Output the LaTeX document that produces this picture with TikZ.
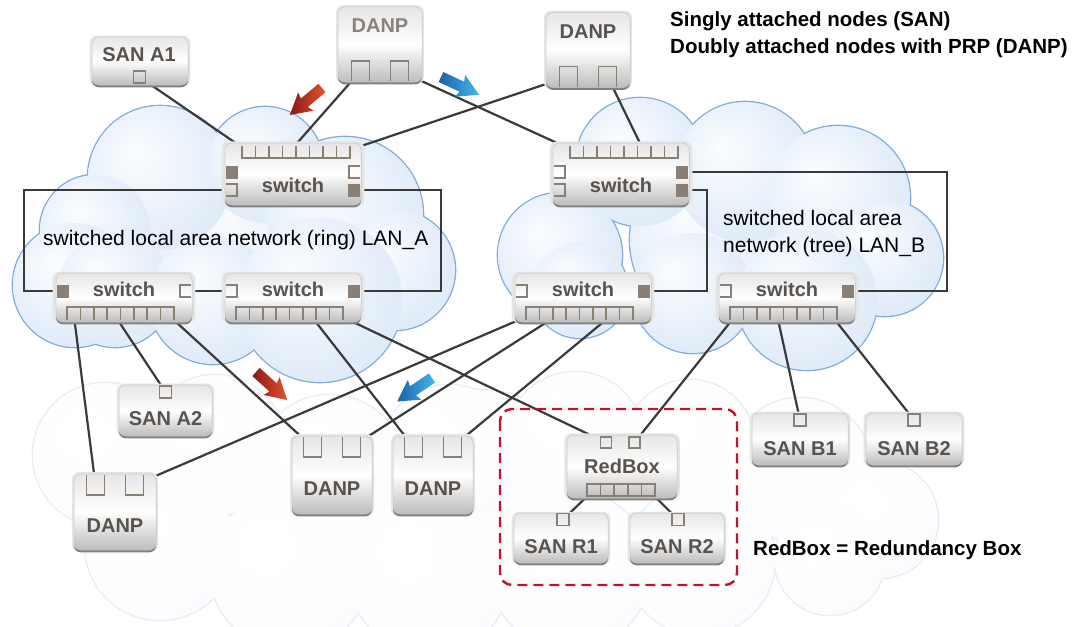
\documentclass[tikz,border=0pt]{standalone}
\usepackage{fontspec}
\setmainfont{Liberation Sans}
\usetikzlibrary{shadows}

\definecolor{portc}{HTML}{8A7F74}
\definecolor{labelc}{HTML}{5A524C}
\definecolor{labelsoft}{HTML}{8A827B}
\definecolor{wirec}{HTML}{3A3A3A}
\definecolor{redc}{HTML}{C8102E}
\definecolor{lanline}{HTML}{82AADD}
\definecolor{lanA}{HTML}{FBFDFF}
\definecolor{lanB}{HTML}{EAF2FB}
\definecolor{lanC}{HTML}{D9E7F6}
\definecolor{lanD}{HTML}{C2D8EF}
\definecolor{fogline}{HTML}{E6EDF6}
\definecolor{fogA}{HTML}{FFFFFF}
\definecolor{fogB}{HTML}{FEFEFF}
\definecolor{fogC}{HTML}{FAFBFD}
\definecolor{fogD}{HTML}{F3F6FA}
\definecolor{arrRedA}{HTML}{8C1818}
\definecolor{arrRedB}{HTML}{E2542C}
\definecolor{arrBluA}{HTML}{1B62A8}
\definecolor{arrBluB}{HTML}{45B6EC}

\pgfdeclareradialshading{lanbubble}{\pgfpoint{-9bp}{9bp}}{color(0bp)=(lanA); color(18bp)=(lanB); color(36bp)=(lanC); color(50bp)=(lanD)}
\pgfdeclareradialshading{fogbubble}{\pgfpoint{-9bp}{9bp}}{color(0bp)=(fogA); color(18bp)=(fogB); color(36bp)=(fogC); color(50bp)=(fogD)}

\pgfdeclarelayer{clouds}
\pgfdeclarelayer{wires}
\pgfsetlayers{clouds,wires,main}

\tikzset{
  wire/.style={draw=wirec, line width=2.2pt},
  portline/.style={draw=portc, line width=1.6pt},
  dev/.style={rectangle, rounded corners=7pt, draw=black!22, line width=0.5pt,
    top color=black!10, bottom color=black!26, middle color=white,
    general shadow={fill=black!10, shadow scale=1.05},
    general shadow={fill=black!50, shadow yshift=-2.4pt},
    inner sep=0pt},
  lab/.style={font=\fontsize{20}{20}\selectfont\bfseries, text=labelc, inner sep=0pt, anchor=base},
  note/.style={font=\fontsize{20.5}{24}\selectfont\bfseries, text=black, inner sep=0pt, anchor=base west},
  lantext/.style={font=\fontsize{21}{25}\selectfont, text=black, inner sep=0pt, anchor=base west},
  redbox/.style={draw=redc, line width=2.4pt, dash pattern=on 10pt off 6pt, rounded corners=12pt},
}

% cloud built from overlapping circles: outer rim first, then shaded bubbles
\newcommand\cloudshape[3]{%
  \foreach \cx/\cy/\cr in {#1} \fill[#2] (\cx,\cy) circle [radius=\cr pt+1.3pt];
  \foreach \cx/\cy/\cr in {#1} \shade[shading=#3] (\cx,\cy) circle [radius=\cr pt];
}

% row of 8 ports hanging from the top edge of a switch
\newcommand\topcomb[4]{%
  \pgfmathsetmacro\cstep{(#3-#2)/8}
  \draw[portline] (#2,#4+3) -- (#2,#4+15) -- (#3,#4+15) -- (#3,#4+3);
  \foreach \k in {1,...,7} \draw[portline] ({#2+\k*\cstep},#4+3) -- ({#2+\k*\cstep},#4+15);
  \foreach \k in {1,...,8} \coordinate (#1-t\k) at ({#2+(\k-0.5)*\cstep},#4+9);
}
% row of 8 ports standing on the bottom edge of a switch
\newcommand\botcomb[4]{%
  \pgfmathsetmacro\cstep{(#3-#2)/8}
  \draw[portline] (#2,#4-2) -- (#2,#4-15) -- (#3,#4-15) -- (#3,#4-2);
  \foreach \k in {1,...,7} \draw[portline] ({#2+\k*\cstep},#4-2) -- ({#2+\k*\cstep},#4-15);
  \foreach \k in {1,...,8} \coordinate (#1-b\k) at ({#2+(\k-0.5)*\cstep},#4-8);
}
% side ports of a switch (x = face edge, y = port centre)
\newcommand\portLfill[3]{\fill[portc] (#2+1,#3-6.5) rectangle (#2+13,#3+6.5); \coordinate (#1) at (#2+7,#3);}
\newcommand\portLopen[3]{\draw[portline] (#2+1,#3-6) -- (#2+12,#3-6) -- (#2+12,#3+6) -- (#2+1,#3+6); \coordinate (#1) at (#2+7,#3);}
\newcommand\portRfill[3]{\fill[portc] (#2-13,#3-6.5) rectangle (#2-1,#3+6.5); \coordinate (#1) at (#2-7,#3);}
\newcommand\portRopen[3]{\draw[portline] (#2-1,#3-6) -- (#2-12,#3-6) -- (#2-12,#3+6) -- (#2-1,#3+6); \coordinate (#1) at (#2-7,#3);}
% the two ports of a doubly attached node; #4 = +1 opens at the top, -1 at the bottom
\newcommand\danpports[4]{%
  \foreach \s/\n in {-1/l,1/r}{%
    \draw[portline] ({#2+\s*19.5-9},#3) -- ({#2+\s*19.5-9},{#3+#4*20}) -- ({#2+\s*19.5+9},{#3+#4*20}) -- ({#2+\s*19.5+9},#3);
    \coordinate (#1-\n) at ({#2+\s*19.5},{#3+#4*10});
  }%
}
% single closed port
\newcommand\sqport[4]{\draw[portline] (#2-#4/2,#3-#4/2) rectangle (#2+#4/2,#3+#4/2); \coordinate (#1) at (#2,#3);}
% block arrow showing the direction of the duplicated frames
\newcommand\flowarrow[5]{%
  \begin{scope}[shift={(#1,#2)}, rotate=#3]
    \shade[left color=#4, right color=#5] (0,-5.5) -- (23,-5.5) -- (21,-12) -- (42,0) -- (21,12) -- (23,5.5) -- (0,5.5) -- cycle;
  \end{scope}}

\begin{document}
\begin{tikzpicture}[x=1pt,y=-1pt]
\path[use as bounding box] (0,0) rectangle (1086,626);

% ---------------- clouds ----------------
\begin{pgfonlayer}{clouds}
\begin{scope}
  \clip (0,0) rectangle (1086,626);
  \fill[white] (0,0) rectangle (1086,626);
  \cloudshape{480/500/110, 105/455/72, 215/445/70, 330/470/75, 450/455/70, 575/440/68, 690/445/65, 800/470/72, 880/520/58, 160/545/75, 290/570/80, 430/575/80, 570/570/80, 700/560/75, 830/560/55}{fogline}{fogbubble}
  \cloudshape{250/240/100, 160/178/72, 265/165/58, 345/215/78, 95/230/55, 75/285/62, 395/270/60, 115/290/57, 213/300/64, 320/300/82}{lanline}{lanbubble}
  \cloudshape{720/240/90, 640/162/64, 745/172/70, 838/198/72, 885/258/58, 560/255/62, 580/290/48, 693/293/60, 807/300/70}{lanline}{lanbubble}
\end{scope}
\end{pgfonlayer}

\node[lantext] (lanA-txt) at (43,245) {switched local area network (ring) LAN\_A};
\node[lantext] (lanB-txt1) at (723,225) {switched local area};
\node[lantext] (lanB-txt2) at (723,252) {network (tree) LAN\_B};

% ---------------- legend ----------------
\node[note] (legend1) at (670,27) {Singly attached nodes (SAN)};
\node[note] (legend2) at (670,53) {Doubly attached nodes with PRP (DANP)};
\node[note] (rb-legend) at (753,555) {RedBox = Redundancy Box};

% ---------------- redundancy box frame ----------------
\draw[redbox] (500,409) rectangle (737,585);

% ---------------- LAN_A switches ----------------
\node[dev, minimum width=136pt, minimum height=62pt] (sw1) at (293,174) {};
\node[lab] (sw1-txt) at (293,192) {switch};
\topcomb{sw1}{242}{350}{143}
\portLfill{sw1-l1}{225}{172}\portLopen{sw1-l2}{225}{190}
\portRopen{sw1-r1}{361}{172}\portRfill{sw1-r2}{361}{190}

\node[dev, minimum width=136pt, minimum height=49pt] (sw2) at (124,297.5) {};
\node[lab] (sw2-txt) at (124,296) {switch};
\botcomb{sw2}{67}{174}{322}
\portLfill{sw2-l1}{56}{291}\portRopen{sw2-r1}{192}{291}

\node[dev, minimum width=136pt, minimum height=49pt] (sw3) at (293,297.5) {};
\node[lab] (sw3-txt) at (293,296) {switch};
\botcomb{sw3}{236}{343}{322}
\portLopen{sw3-l1}{225}{291}\portRfill{sw3-r1}{361}{291}

% ---------------- LAN_B switches ----------------
\node[dev, minimum width=136pt, minimum height=62pt] (sw4) at (621,174) {};
\node[lab] (sw4-txt) at (621,192) {switch};
\topcomb{sw4}{570}{678}{143}
\portLopen{sw4-l1}{553}{172}\portLopen{sw4-l2}{553}{190}
\portRfill{sw4-r1}{689}{172}\portRfill{sw4-r2}{689}{190}

\node[dev, minimum width=136pt, minimum height=49pt] (sw5) at (583,297.5) {};
\node[lab] (sw5-txt) at (583,296) {switch};
\botcomb{sw5}{526}{633}{322}
\portLopen{sw5-l1}{515}{291}\portRfill{sw5-r1}{651}{291}

\node[dev, minimum width=136pt, minimum height=49pt] (sw6) at (787,297.5) {};
\node[lab] (sw6-txt) at (787,296) {switch};
\botcomb{sw6}{730}{837}{322}
\portLopen{sw6-l1}{719}{291}\portRfill{sw6-r1}{855}{291}

% ---------------- end nodes ----------------
\node[dev, minimum width=96pt, minimum height=48pt] (sanA1) at (140,61) {};
\node[lab] (sanA1-txt) at (139,62) {SAN A1};
\sqport{sanA1-p}{139.5}{77}{12}

\node[dev, minimum width=84pt, minimum height=75pt] (danpT1) at (380,44.5) {};
\node[lab, text=labelsoft] (danpT1-txt) at (380,33) {DANP};
\danpports{danpT1}{380}{81}{-1}

\node[dev, minimum width=84pt, minimum height=75pt] (danpT2) at (588,50) {};
\node[lab] (danpT2-txt) at (588,38) {DANP};
\danpports{danpT2}{588}{86.5}{-1}

\node[dev, minimum width=93pt, minimum height=51pt] (sanA2) at (165.5,410.5) {};
\node[lab] (sanA2-txt) at (165.5,425) {SAN A2};
\sqport{sanA2-p}{165.5}{392}{12}

\node[dev, minimum width=82pt, minimum height=76pt] (danpBL) at (115,512) {};
\node[lab] (danpBL-txt) at (115,532) {DANP};
\danpports{danpBL}{115}{475}{1}

\node[dev, minimum width=80pt, minimum height=78pt] (danpM1) at (332,475) {};
\node[lab] (danpM1-txt) at (332,495) {DANP};
\danpports{danpM1}{332}{437}{1}

\node[dev, minimum width=80pt, minimum height=78pt] (danpM2) at (433,475) {};
\node[lab] (danpM2-txt) at (433,495) {DANP};
\danpports{danpM2}{433}{437}{1}

\node[dev, minimum width=110pt, minimum height=63pt] (redbox) at (622,466.5) {};
\node[lab] (redbox-txt) at (622,473) {RedBox};
\sqport{redbox-l}{606}{442.5}{11}
\sqport{redbox-r}{634.5}{442.5}{11}
\draw[portline] (587,484) rectangle (655,496);
\foreach \k in {1,...,4} \draw[portline] ({587+\k*13.6},484) -- ({587+\k*13.6},496);
\foreach \k in {1,...,5} \coordinate (redbox-b\k) at ({587+(\k-0.5)*13.6},490);

\node[dev, minimum width=94pt, minimum height=50pt] (sanR1) at (561,538) {};
\node[lab] (sanR1-txt) at (561,553) {SAN R1};
\sqport{sanR1-p}{563}{519.5}{12}

\node[dev, minimum width=94pt, minimum height=50pt] (sanR2) at (677,538) {};
\node[lab] (sanR2-txt) at (677,553) {SAN R2};
\sqport{sanR2-p}{678}{519.5}{12}

\node[dev, minimum width=96pt, minimum height=52pt] (sanB1) at (800,439) {};
\node[lab] (sanB1-txt) at (800,455) {SAN B1};
\sqport{sanB1-p}{800}{420}{12}

\node[dev, minimum width=96pt, minimum height=52pt] (sanB2) at (914,439) {};
\node[lab] (sanB2-txt) at (914,455) {SAN B2};
\sqport{sanB2-p}{914}{420}{12}

% ---------------- wiring ----------------
\coordinate (ringA-w) at (24,240);
\coordinate (ringA-e) at (441,240);
\coordinate (treeB-m) at (707,240);
\coordinate (treeB-e) at (947,230);
\begin{pgfonlayer}{wires}
  % LAN_A ring
  \draw[wire] (sw1-l2) -| (ringA-w) |- (sw2-l1);
  \draw[wire] (sw1-r2) -| (ringA-e) |- (sw3-r1);
  \draw[wire] (sw2-r1) -- (sw3-l1);
  % LAN_B tree
  \draw[wire] (sw4-r1) -| (treeB-e) |- (sw6-r1);
  \draw[wire] (sw4-r2) -| (treeB-m) |- (sw5-r1);
  % upper attachments
  \draw[wire] (sanA1-p) -- (sw1-t1);
  \draw[wire] (danpT1-l) -- (sw1-t4);
  \draw[wire] (danpT2-l) -- (sw1-t8);
  \draw[wire] (danpT1-r) -- (sw4-t1);
  \draw[wire] (danpT2-r) -- (sw4-t6);
  % lower attachments, LAN_A
  \draw[wire] (sw2-b1) -- (danpBL-l);
  \draw[wire] (sw2-b4) -- (sanA2-p);
  \draw[wire] (sw2-b8) -- (danpM1-l);
  \draw[wire] (sw3-b6) -- (danpM2-l);
  \draw[wire] (sw3-b8) -- (redbox-l);
  % lower attachments, LAN_B
  \draw[wire] (sw5-b1) -- (danpBL-r);
  \draw[wire] (sw5-b3) -- (danpM1-r);
  \draw[wire] (sw5-b7) -- (danpM2-r);
  \draw[wire] (sw6-b1) -- (redbox-r);
  \draw[wire] (sw6-b4) -- (sanB1-p);
  \draw[wire] (sw6-b8) -- (sanB2-p);
  % behind the RedBox
  \draw[wire] (redbox-b1) -- (sanR1-p);
  \draw[wire] (redbox-b5) -- (sanR2-p);
\end{pgfonlayer}

% ---------------- frame flow arrows ----------------
\flowarrow{322}{88}{220}{arrRedA}{arrRedB}
\flowarrow{441}{77}{-25}{arrBluA}{arrBluB}
\flowarrow{256}{372}{-42}{arrRedA}{arrRedB}
\flowarrow{432}{378}{214}{arrBluA}{arrBluB}
\end{tikzpicture}
\end{document}
